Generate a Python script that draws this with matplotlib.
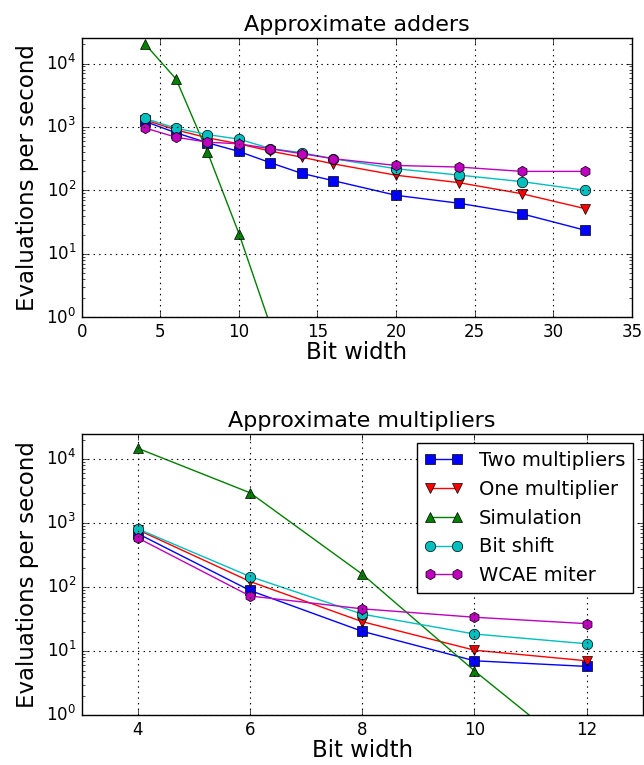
import matplotlib.pyplot as plt

plt.style.use('classic')

# Approximate adders: bit widths and evaluation rates
adder_bits = [4, 6, 8, 10, 12, 14, 16, 20, 24, 28, 32]
adder_two_mult = [1230, 810, 564, 412, 274, 186, 143, 84, 63, 43, 23.8]
adder_one_mult = [1300, 900, 676, 544, 417, 335, 263, 174, 133, 89, 52]
adder_bit_shift = [1370, 956, 760, 644, 458, 393, 317, 220, 175, 138, 101]
adder_wcae = [970, 690, 577, 544, 454, 380, 317, 248, 234, 200, 200]
adder_sim_bits = [4, 6, 8, 10, 12]
adder_sim = [20600, 5700, 402, 21, 0.75]

# Approximate multipliers
mult_bits = [4, 6, 8, 10, 12]
mult_two_mult = [687, 89, 20.5, 7.1, 5.8]
mult_one_mult = [790, 123, 29, 10.4, 7.1]
mult_sim = [14800, 2990, 160, 4.95, 0.19]
mult_bit_shift = [815, 147, 38, 18.6, 13.1]
mult_wcae = [588, 73, 46, 34, 27]

labels = ['Two multipliers', 'One multiplier', 'Simulation', 'Bit shift', 'WCAE miter']
styles = [('b', 's'), ('r', 'v'), ('g', '^'), ('c', 'o'), ('m', 'h')]

fig = plt.figure(figsize=(6.44, 7.65), dpi=100)
fig.patch.set_facecolor('white')

ax1 = fig.add_axes([0.127, 0.585, 0.854, 0.365])
ax2 = fig.add_axes([0.127, 0.065, 0.871, 0.368])

top_series = [(adder_bits, adder_two_mult), (adder_bits, adder_one_mult),
              (adder_sim_bits, adder_sim), (adder_bits, adder_bit_shift),
              (adder_bits, adder_wcae)]
bottom_series = [(mult_bits, mult_two_mult), (mult_bits, mult_one_mult),
                 (mult_bits, mult_sim), (mult_bits, mult_bit_shift),
                 (mult_bits, mult_wcae)]

for (xs, ys), (c, m), lab in zip(top_series, styles, labels):
    ax1.plot(xs, ys, color=c, marker=m, markersize=7.5, linewidth=1, label=lab)
for (xs, ys), (c, m), lab in zip(bottom_series, styles, labels):
    ax2.plot(xs, ys, color=c, marker=m, markersize=7.5, linewidth=1, label=lab)

for ax in (ax1, ax2):
    ax.set_yscale('log')
    ax.set_ylim(1, 2.5e4)
    ax.grid(True, color='k', linestyle=':', linewidth=0.8)
    ax.tick_params(labelsize=12)
    ax.set_xlabel('Bit width', fontsize=16.5, labelpad=0)
    ax.set_ylabel('Evaluations per second', fontsize=16.5)

ax1.set_xlim(0, 35)
ax1.set_title('Approximate adders', fontsize=16)

ax2.set_xlim(3, 13)
ax2.set_xticks([4, 6, 8, 10, 12])
ax2.set_title('Approximate multipliers', fontsize=16)
ax2.legend(loc='upper right', numpoints=2, fontsize=14)

fig.savefig('out.png', dpi=100)
